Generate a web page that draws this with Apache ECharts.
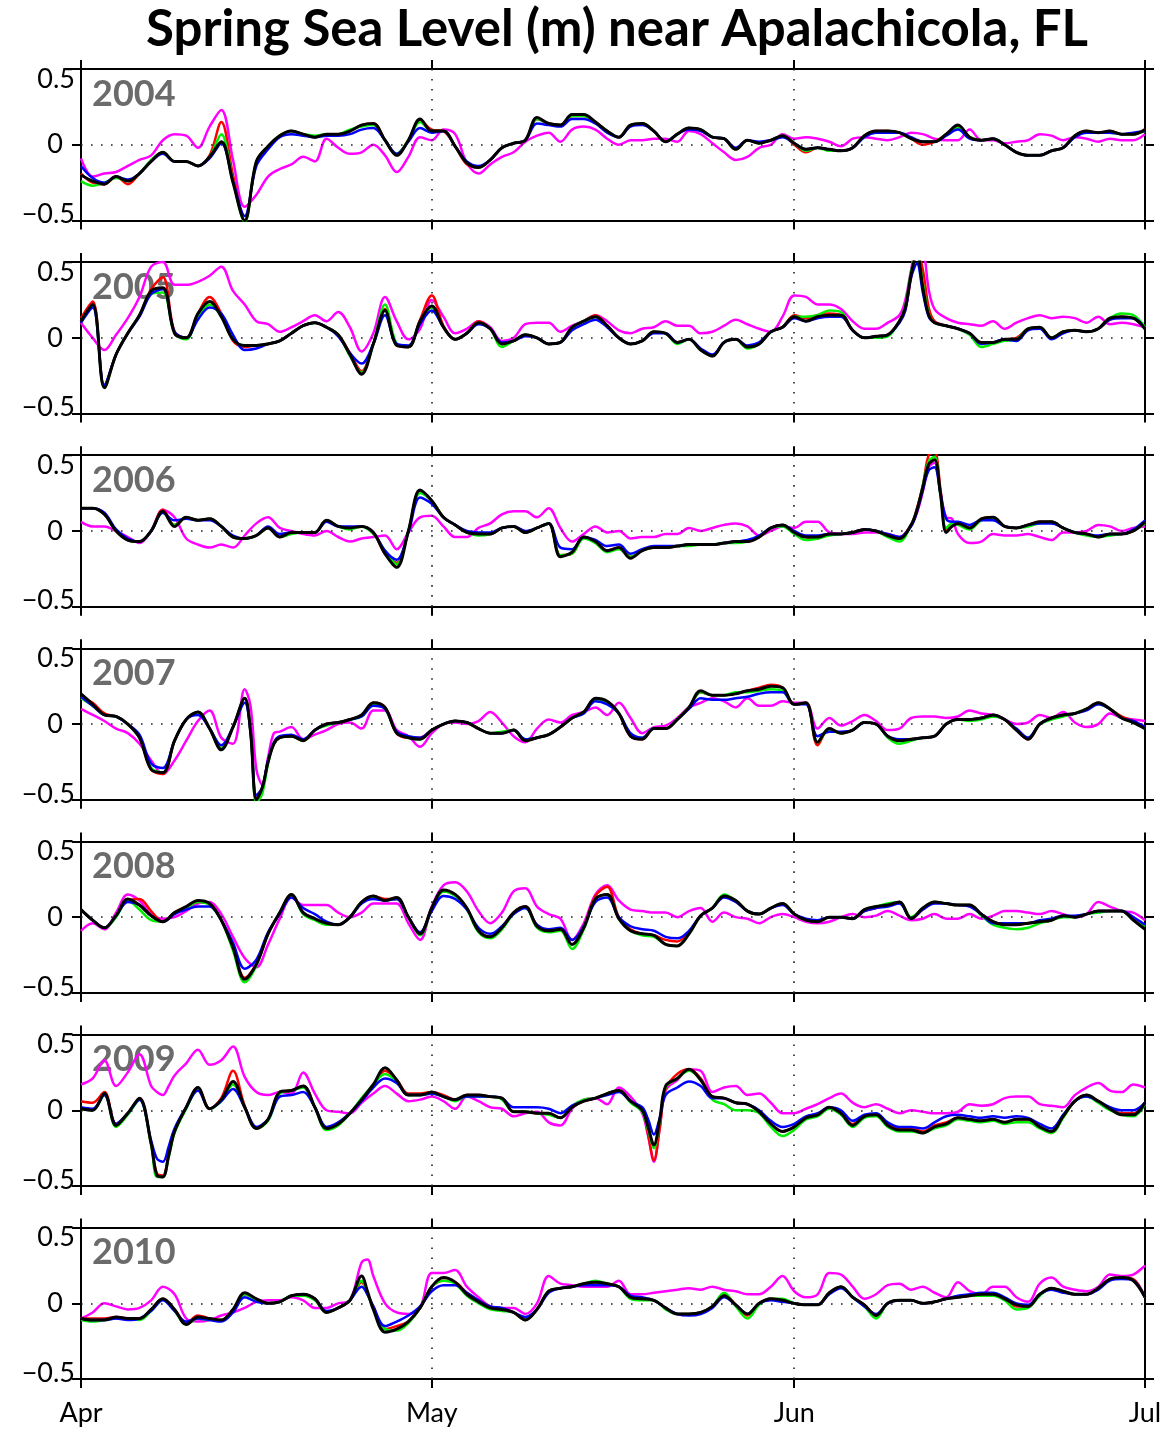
<!DOCTYPE html>
<html><head><meta charset="utf-8">
<script src="https://cdn.jsdelivr.net/npm/echarts@6/dist/echarts.min.js"></script>
<style>html,body{margin:0;padding:0;background:#fff}#c{width:1169px;height:1433px}</style>
</head><body><div id="c"></div>
<script>
const chartTitle = 'Spring Sea Level (m) near Apalachicola, FL';
const monthTicks = [0, 30, 61, 91];
const monthNames = ['Apr', 'May', 'Jun', 'Jul'];
const yTicks = [-0.5, 0, 0.5];
const yTickText = ['\u22120.5', '0', '0.5'];

// ---- 2004 ----
const extra2004 = [];
const black2004 = [-0.20,-0.24,-0.26,-0.21,-0.24,-0.19,-0.11,-0.05,-0.11,-0.11,
-0.14,-0.08,0.02,-0.25,-0.50,-0.11,-0.01,0.06,0.09,0.07,
0.05,0.07,0.07,0.09,0.13,0.14,0.03,-0.07,0.03,0.17,
0.09,0.09,-0.01,-0.12,-0.15,-0.10,-0.02,0.01,0.03,0.18,
0.14,0.13,0.20,0.20,0.15,0.09,0.05,0.13,0.14,0.09,
0.02,0.07,0.11,0.10,0.05,0.04,-0.03,0.03,0.01,0.03,
0.06,0.01,-0.03,-0.02,-0.03,-0.04,-0.02,0.06,0.09,0.09,
0.08,0.04,0.02,0.02,0.07,0.13,0.05,0.03,0.04,0.00,
-0.05,-0.07,-0.07,-0.04,-0.02,0.06,0.09,0.08,0.09,0.07,
0.07,0.10];
const red2004 = [-0.19,-0.25,-0.26,-0.21,-0.26,-0.19,-0.11,-0.05,-0.11,-0.11,
-0.14,-0.07,0.15,-0.20,-0.50,-0.12,-0.01,0.06,0.09,0.07,
0.05,0.07,0.07,0.09,0.13,0.14,0.03,-0.07,0.03,0.16,
0.10,0.09,-0.01,-0.13,-0.15,-0.10,-0.02,0.01,0.03,0.17,
0.14,0.13,0.19,0.19,0.15,0.09,0.05,0.13,0.14,0.09,
0.02,0.07,0.11,0.10,0.05,0.04,-0.03,0.03,0.01,0.03,
0.06,0.00,-0.05,-0.02,-0.03,-0.04,-0.02,0.06,0.09,0.09,
0.08,0.04,0.00,0.02,0.07,0.12,0.05,0.03,0.04,0.00,
-0.05,-0.07,-0.07,-0.04,-0.02,0.06,0.09,0.08,0.09,0.07,
0.07,0.10];
const green2004 = [-0.24,-0.27,-0.25,-0.22,-0.24,-0.19,-0.10,-0.05,-0.11,-0.11,
-0.14,-0.08,0.07,-0.24,-0.51,-0.11,-0.01,0.06,0.09,0.07,
0.06,0.07,0.07,0.10,0.12,0.13,0.03,-0.06,0.03,0.15,
0.09,0.09,-0.01,-0.12,-0.15,-0.10,-0.02,0.01,0.03,0.17,
0.14,0.13,0.19,0.19,0.15,0.09,0.05,0.13,0.14,0.09,
0.02,0.07,0.11,0.10,0.05,0.04,-0.03,0.03,0.01,0.03,
0.06,0.01,-0.04,-0.02,-0.04,-0.04,-0.02,0.06,0.08,0.09,
0.08,0.04,0.02,0.02,0.07,0.11,0.05,0.03,0.04,0.00,
-0.05,-0.07,-0.07,-0.04,-0.02,0.06,0.08,0.08,0.08,0.07,
0.07,0.09];
const blue2004 = [-0.14,-0.22,-0.25,-0.21,-0.23,-0.19,-0.11,-0.06,-0.11,-0.11,
-0.14,-0.09,0.01,-0.24,-0.47,-0.14,-0.03,0.05,0.07,0.06,
0.05,0.06,0.06,0.07,0.10,0.11,0.03,-0.06,0.02,0.11,
0.08,0.09,-0.01,-0.11,-0.14,-0.10,-0.02,0.01,0.03,0.14,
0.13,0.12,0.17,0.17,0.14,0.08,0.05,0.12,0.13,0.09,
0.02,0.07,0.10,0.09,0.05,0.04,-0.02,0.03,0.02,0.03,
0.05,0.01,-0.03,-0.02,-0.03,-0.04,-0.02,0.05,0.08,0.08,
0.08,0.05,0.02,0.02,0.06,0.10,0.04,0.03,0.04,0.00,
-0.05,-0.07,-0.07,-0.04,-0.02,0.05,0.08,0.08,0.08,0.07,
0.08,0.09];
const magenta2004 = [-0.09,-0.21,-0.19,-0.18,-0.14,-0.10,-0.07,0.03,0.07,0.06,
-0.02,0.12,0.23,-0.10,-0.41,-0.33,-0.21,-0.16,-0.13,-0.08,
-0.11,0.04,-0.02,-0.06,-0.05,0.00,-0.07,-0.18,-0.08,0.05,
0.03,0.10,0.07,-0.12,-0.19,-0.13,-0.08,-0.05,0.02,0.06,
0.08,0.02,0.10,0.12,0.10,0.04,0.00,0.03,0.03,0.04,
0.04,0.02,0.09,0.07,0.01,-0.05,-0.10,-0.08,-0.02,0.00,
0.07,0.04,0.05,0.04,0.02,-0.01,0.04,0.05,0.04,0.03,
0.05,0.08,0.07,0.04,0.03,0.03,0.10,0.03,0.03,0.01,
0.02,0.03,0.07,0.06,0.03,0.05,0.04,0.02,0.04,0.03,
0.03,0.07];

// ---- 2005 ----
const extra2005 = [70.5, 71.5, 72.5];
const black2005 = [0.11,0.22,-0.33,-0.11,0.03,0.15,0.31,0.33,0.03,0.00,
0.16,0.24,0.14,-0.01,-0.05,-0.05,-0.04,-0.02,0.03,0.08,
0.10,0.07,0.02,-0.11,-0.24,-0.04,0.18,-0.05,-0.06,0.11,
0.21,0.07,-0.01,0.03,0.10,0.06,-0.04,-0.02,0.02,0.00,
-0.04,-0.03,0.07,0.11,0.14,0.08,0.00,-0.04,-0.02,0.04,
0.03,-0.03,-0.01,-0.08,-0.12,-0.03,-0.01,-0.06,-0.04,0.04,
0.07,0.14,0.11,0.14,0.15,0.15,0.05,0.00,0.01,0.02,
0.11, 0.20,0.42,0.56,0.33,0.15,
0.10,0.08,0.06,0.03,-0.03,-0.03,-0.01,-0.01,0.06,0.07,
0.00,0.04,0.05,0.04,0.06,0.13,0.14,0.13,0.06];
const red2005 = [0.13,0.24,-0.32,-0.11,0.03,0.15,0.32,0.40,0.04,0.00,
0.16,0.27,0.16,-0.02,-0.06,-0.05,-0.04,-0.02,0.03,0.08,
0.10,0.07,0.02,-0.10,-0.22,-0.04,0.19,-0.05,-0.06,0.12,
0.28,0.08,-0.01,0.03,0.11,0.06,-0.04,-0.02,0.02,0.00,
-0.04,-0.03,0.07,0.11,0.15,0.08,0.00,-0.04,-0.02,0.04,
0.03,-0.03,-0.01,-0.08,-0.12,-0.03,-0.01,-0.06,-0.04,0.04,
0.07,0.15,0.13,0.15,0.16,0.15,0.05,0.00,0.01,0.02,
0.11, 0.19,0.40,0.58,0.45,0.20,
0.11,0.08,0.06,0.03,-0.03,-0.03,-0.01,0.00,0.06,0.07,
0.00,0.04,0.05,0.04,0.06,0.12,0.14,0.13,0.06];
const green2005 = [0.11,0.21,-0.33,-0.11,0.03,0.15,0.29,0.30,0.03,-0.01,
0.14,0.22,0.14,-0.01,-0.05,-0.05,-0.04,-0.02,0.03,0.08,
0.10,0.07,0.02,-0.12,-0.23,-0.04,0.22,-0.04,-0.06,0.11,
0.20,0.07,-0.01,0.03,0.10,0.06,-0.06,-0.02,0.02,0.00,
-0.04,-0.03,0.07,0.11,0.14,0.08,0.00,-0.04,-0.02,0.04,
0.03,-0.04,-0.01,-0.08,-0.12,-0.03,-0.01,-0.07,-0.04,0.04,
0.07,0.14,0.14,0.15,0.18,0.17,0.05,0.00,0.00,0.01,
0.11, 0.21,0.44,0.56,0.36,0.16,
0.10,0.08,0.06,0.02,-0.06,-0.04,-0.02,-0.01,0.06,0.07,
0.00,0.04,0.05,0.04,0.06,0.13,0.16,0.15,0.07];
const blue2005 = [0.10,0.20,-0.31,-0.11,0.03,0.14,0.29,0.32,0.04,0.00,
0.12,0.20,0.16,0.02,-0.08,-0.07,-0.04,-0.02,0.03,0.08,
0.10,0.07,0.01,-0.10,-0.17,-0.04,0.15,-0.04,-0.05,0.09,
0.18,0.07,-0.01,0.03,0.09,0.06,-0.03,-0.02,0.01,0.00,
-0.04,-0.03,0.05,0.09,0.12,0.07,0.00,-0.04,-0.02,0.03,
0.03,-0.03,-0.01,-0.07,-0.11,-0.03,-0.01,-0.05,-0.03,0.04,
0.07,0.13,0.11,0.13,0.14,0.14,0.05,0.00,0.01,0.02,
0.10, 0.18,0.40,0.49,0.30,0.14,
0.10,0.08,0.06,0.03,-0.04,-0.03,-0.01,-0.02,0.05,0.06,
-0.01,0.03,0.05,0.04,0.06,0.12,0.13,0.13,0.06];
const magenta2005 = [0.10,0.00,-0.08,0.02,0.13,0.27,0.47,0.50,0.35,0.35,
0.37,0.41,0.47,0.31,0.22,0.11,0.09,0.04,0.07,0.11,
0.15,0.11,0.17,0.07,-0.09,0.03,0.27,0.11,-0.01,0.06,
0.25,0.14,0.03,0.06,0.11,0.07,-0.02,0.00,0.09,0.10,
0.10,0.04,0.08,0.11,0.15,0.11,0.05,0.03,0.06,0.07,
0.11,0.08,0.08,0.03,0.04,0.08,0.12,0.09,0.06,0.04,
0.14,0.28,0.27,0.22,0.22,0.19,0.11,0.06,0.06,0.10,
0.15, 0.25,0.45,0.62,0.60,0.32,
0.19,0.13,0.10,0.09,0.08,0.11,0.06,0.10,0.13,0.15,
0.13,0.14,0.13,0.10,0.14,0.09,0.10,0.09,0.07];

// ---- 2006 ----
const extra2006 = [71.5, 72.5, 73.5, 74.5];
const black2006 = [0.15,0.15,0.11,0.00,-0.06,-0.07,0.00,0.13,0.03,0.09,
0.07,0.08,0.03,-0.04,-0.05,-0.03,0.02,-0.04,-0.01,-0.01,
-0.01,0.07,0.03,0.02,0.03,-0.01,-0.15,-0.24,0.00,0.27,
0.20,0.09,0.04,-0.01,-0.02,-0.02,0.02,0.03,-0.01,0.02,
0.05,-0.17,-0.14,-0.04,-0.07,-0.13,-0.11,-0.18,-0.13,-0.11,
-0.11,-0.10,-0.09,-0.09,-0.09,-0.08,-0.07,-0.07,-0.04,0.02,
0.04,-0.01,-0.04,-0.04,-0.02,-0.02,-0.01,0.01,0.00,-0.03,
-0.05,0.04, 0.14,0.29,0.44,0.47,0.25,-0.01,0.03,
0.05,0.02,0.08,0.09,0.03,0.02,0.04,0.06,0.06,0.02,
-0.01,-0.02,-0.04,-0.02,-0.02,0.00,0.06];
const red2006 = [0.15,0.15,0.11,0.00,-0.06,-0.07,0.00,0.14,0.04,0.09,
0.07,0.08,0.03,-0.04,-0.05,-0.03,0.02,-0.04,-0.01,-0.01,
-0.01,0.07,0.03,0.02,0.03,-0.01,-0.15,-0.21,0.00,0.26,
0.20,0.09,0.04,-0.01,-0.02,-0.02,0.02,0.03,-0.01,0.02,
0.05,-0.16,-0.15,-0.04,-0.07,-0.13,-0.11,-0.17,-0.13,-0.11,
-0.11,-0.10,-0.09,-0.09,-0.09,-0.08,-0.07,-0.07,-0.04,0.02,
0.04,-0.01,-0.04,-0.05,-0.02,-0.02,-0.01,0.01,0.00,-0.03,
-0.05,0.04, 0.15,0.30,0.50,0.52,0.28,0.00,0.04,
0.05,0.02,0.08,0.09,0.03,0.02,0.04,0.06,0.06,0.02,
-0.01,-0.02,-0.04,-0.02,-0.02,0.00,0.06];
const green2006 = [0.15,0.15,0.11,0.00,-0.06,-0.07,0.00,0.12,0.04,0.09,
0.07,0.08,0.03,-0.04,-0.05,-0.03,0.02,-0.04,-0.02,-0.01,
-0.01,0.07,0.03,0.01,0.03,-0.02,-0.13,-0.22,0.00,0.25,
0.20,0.09,0.04,-0.01,-0.03,-0.02,0.02,0.03,-0.01,0.02,
0.05,-0.16,-0.15,-0.05,-0.08,-0.14,-0.12,-0.17,-0.13,-0.11,
-0.11,-0.10,-0.10,-0.09,-0.09,-0.08,-0.08,-0.07,-0.04,0.02,
0.03,-0.02,-0.06,-0.05,-0.03,-0.02,-0.01,0.01,0.00,-0.04,
-0.07,0.04, 0.14,0.30,0.46,0.49,0.24,0.02,0.05,
0.04,0.01,0.07,0.08,0.03,0.02,0.03,0.05,0.06,0.02,
-0.01,-0.03,-0.04,-0.03,-0.02,0.00,0.05];
const blue2006 = [0.15,0.15,0.12,0.01,-0.05,-0.07,0.00,0.12,0.07,0.08,
0.07,0.07,0.03,-0.03,-0.05,-0.03,0.03,-0.02,-0.01,-0.01,
-0.01,0.06,0.03,0.03,0.03,-0.01,-0.13,-0.19,-0.01,0.22,
0.18,0.09,0.04,0.00,-0.01,-0.01,0.02,0.03,0.00,0.02,
0.05,-0.11,-0.12,-0.04,-0.06,-0.10,-0.09,-0.15,-0.12,-0.10,
-0.10,-0.10,-0.09,-0.09,-0.09,-0.08,-0.07,-0.06,-0.03,0.02,
0.04,0.00,-0.03,-0.03,-0.02,-0.02,-0.01,0.01,0.00,-0.02,
-0.04,0.03, 0.13,0.27,0.40,0.42,0.25,0.08,0.06,
0.06,0.04,0.07,0.07,0.03,0.02,0.04,0.05,0.05,0.02,
-0.01,-0.02,-0.03,-0.02,-0.02,0.01,0.07];
const magenta2006 = [0.06,0.03,0.03,0.00,-0.04,-0.08,0.00,0.14,0.09,-0.05,
-0.09,-0.11,-0.09,-0.11,-0.03,0.05,0.09,0.02,0.00,-0.02,
-0.03,0.00,-0.04,-0.07,-0.05,-0.04,-0.03,-0.12,-0.01,0.09,
0.10,0.03,-0.04,-0.04,0.02,0.05,0.11,0.13,0.13,0.09,
0.15,0.02,-0.07,-0.02,0.03,-0.01,0.00,-0.05,-0.04,-0.04,
-0.02,-0.02,0.02,0.00,0.02,0.04,0.05,0.03,-0.03,0.00,
0.03,0.02,0.06,0.06,-0.01,-0.02,-0.02,-0.01,-0.01,-0.02,
-0.04,0.04, 0.12,0.26,0.42,0.45,0.26,0.09,0.08,
-0.02,-0.08,-0.07,-0.02,-0.03,-0.03,-0.02,-0.04,-0.06,-0.01,
-0.01,0.00,0.04,0.03,0.00,0.02,0.03];

// ---- 2007 ----
const extra2007 = [14.5, 15.5, 16.5];
const black2007 = [0.20,0.13,0.06,0.05,0.00,-0.09,-0.30,-0.32,-0.11,0.03,
0.08,-0.03,-0.17,-0.02,0.17, -0.05,-0.50,-0.42,-0.25,-0.13,
-0.09,-0.08,-0.11,-0.04,0.00,0.01,0.03,0.06,0.14,0.11,
-0.06,-0.09,-0.10,-0.04,0.00,0.02,0.01,-0.03,-0.06,-0.06,
-0.04,-0.11,-0.09,-0.07,-0.02,0.04,0.08,0.17,0.15,0.07,
-0.08,-0.10,-0.03,-0.03,0.03,0.11,0.22,0.19,0.19,0.20,
0.22,0.23,0.25,0.24,0.13,0.14,-0.12,-0.03,-0.06,-0.04,
0.01,0.00,-0.08,-0.11,-0.10,-0.09,-0.08,0.00,0.03,0.03,
0.04,0.06,0.03,-0.04,-0.10,0.00,0.04,0.06,0.07,0.10,
0.14,0.10,0.04,0.01,-0.03];
const red2007 = [0.18,0.14,0.07,0.05,0.00,-0.09,-0.30,-0.33,-0.11,0.03,
0.08,-0.03,-0.16,-0.02,0.17, -0.05,-0.49,-0.42,-0.25,-0.13,
-0.09,-0.08,-0.11,-0.04,0.00,0.01,0.03,0.06,0.14,0.11,
-0.06,-0.09,-0.09,-0.04,0.00,0.02,0.01,-0.03,-0.06,-0.06,
-0.04,-0.11,-0.09,-0.07,-0.02,0.04,0.08,0.16,0.15,0.07,
-0.08,-0.10,-0.03,-0.03,0.03,0.11,0.21,0.19,0.19,0.20,
0.22,0.24,0.26,0.24,0.13,0.14,-0.14,-0.03,-0.06,-0.04,
0.01,0.00,-0.08,-0.11,-0.10,-0.09,-0.08,0.00,0.03,0.03,
0.04,0.06,0.03,-0.04,-0.10,0.00,0.04,0.06,0.07,0.10,
0.14,0.10,0.05,0.02,-0.02];
const green2007 = [0.17,0.12,0.06,0.05,0.00,-0.09,-0.29,-0.32,-0.11,0.03,
0.08,-0.03,-0.16,-0.02,0.17, -0.06,-0.52,-0.46,-0.26,-0.13,
-0.09,-0.08,-0.11,-0.04,-0.01,0.01,0.03,0.05,0.13,0.10,
-0.06,-0.09,-0.10,-0.04,0.00,0.02,0.01,-0.03,-0.06,-0.05,
-0.04,-0.10,-0.09,-0.07,-0.02,0.04,0.08,0.16,0.14,0.07,
-0.07,-0.09,-0.03,-0.03,0.03,0.11,0.21,0.19,0.19,0.21,
0.21,0.22,0.23,0.22,0.13,0.14,-0.12,-0.04,-0.06,-0.04,
0.01,0.00,-0.09,-0.13,-0.11,-0.09,-0.08,0.00,0.03,0.02,
0.03,0.05,0.03,-0.04,-0.09,0.00,0.03,0.05,0.07,0.10,
0.13,0.10,0.04,0.01,-0.03];
const blue2007 = [0.18,0.12,0.06,0.05,0.00,-0.07,-0.26,-0.29,-0.11,0.03,
0.06,-0.03,-0.14,-0.02,0.14, -0.05,-0.47,-0.42,-0.24,-0.12,
-0.08,-0.07,-0.10,-0.04,0.00,0.01,0.03,0.05,0.12,0.10,
-0.05,-0.08,-0.09,-0.04,0.00,0.02,0.01,-0.03,-0.06,-0.06,
-0.04,-0.10,-0.09,-0.07,-0.02,0.04,0.07,0.15,0.13,0.07,
-0.06,-0.09,-0.03,-0.03,0.03,0.10,0.17,0.16,0.16,0.17,
0.18,0.20,0.21,0.21,0.13,0.13,-0.08,-0.05,-0.05,-0.04,
0.01,0.00,-0.08,-0.10,-0.10,-0.09,-0.08,0.00,0.03,0.03,
0.04,0.06,0.03,-0.03,-0.09,0.00,0.04,0.06,0.07,0.09,
0.13,0.10,0.04,0.02,-0.02];
const magenta2007 = [0.10,0.06,0.02,-0.03,-0.06,-0.13,-0.24,-0.33,-0.24,-0.11,
0.02,0.09,-0.09,-0.13,0.23, 0.12,-0.30,-0.40,-0.22,-0.06,
-0.05,-0.02,-0.10,-0.07,-0.04,0.00,0.01,-0.03,0.09,0.09,
-0.04,-0.08,-0.15,-0.06,0.00,0.01,0.00,0.02,0.08,0.01,
-0.08,-0.12,-0.03,0.03,0.01,0.06,0.08,0.11,0.06,0.14,
0.04,-0.06,-0.02,-0.01,0.04,0.11,0.14,0.17,0.15,0.11,
0.17,0.12,0.12,0.15,0.14,0.14,-0.03,0.04,-0.01,0.02,
0.06,0.02,-0.04,-0.03,0.04,0.05,0.05,0.04,0.05,0.09,
0.07,0.06,0.03,0.00,0.01,0.06,0.04,0.08,0.01,-0.02,
0.00,0.07,0.04,0.03,0.02];

// ---- 2008 ----
const extra2008 = [];
const black2008 = [0.05,-0.02,-0.07,0.01,0.12,0.08,0.01,-0.03,0.03,0.07,
0.11,0.09,-0.02,-0.20,-0.41,-0.31,-0.11,0.03,0.15,0.03,
-0.01,-0.04,-0.05,0.00,0.10,0.14,0.11,0.13,0.00,-0.11,
0.06,0.18,0.15,0.06,-0.09,-0.13,-0.07,0.03,0.07,-0.06,
-0.09,-0.08,-0.18,-0.07,0.12,0.15,-0.01,-0.09,-0.11,-0.12,
-0.18,-0.19,-0.11,0.01,0.06,0.14,0.11,0.04,0.02,0.06,
0.09,0.02,-0.02,-0.03,0.00,0.00,-0.01,0.05,0.07,0.08,
0.10,-0.01,0.06,0.10,0.09,0.08,0.08,0.02,-0.03,-0.05,
-0.05,-0.04,-0.03,-0.02,0.01,0.00,0.02,0.04,0.04,0.04,
-0.02,-0.08];
const red2008 = [0.05,-0.02,-0.07,0.01,0.11,0.12,0.04,-0.03,0.03,0.07,
0.10,0.09,-0.02,-0.20,-0.40,-0.31,-0.11,0.03,0.15,0.03,
-0.01,-0.04,-0.05,0.00,0.10,0.14,0.12,0.12,0.00,-0.11,
0.06,0.17,0.15,0.06,-0.09,-0.13,-0.07,0.03,0.07,-0.06,
-0.08,-0.08,-0.15,-0.06,0.14,0.20,0.00,-0.08,-0.11,-0.12,
-0.15,-0.16,-0.10,0.01,0.06,0.14,0.11,0.04,0.02,0.06,
0.09,0.02,-0.02,-0.03,0.00,0.00,-0.01,0.04,0.06,0.08,
0.10,-0.01,0.05,0.10,0.09,0.08,0.08,0.02,-0.03,-0.05,
-0.05,-0.04,-0.03,-0.02,0.01,0.00,0.02,0.04,0.04,0.04,
-0.01,-0.06];
const green2008 = [0.05,-0.02,-0.07,0.00,0.11,0.05,-0.02,-0.03,0.03,0.06,
0.10,0.08,-0.02,-0.22,-0.43,-0.32,-0.11,0.03,0.15,0.02,
-0.02,-0.05,-0.05,0.00,0.10,0.13,0.11,0.12,0.00,-0.12,
0.05,0.17,0.14,0.05,-0.10,-0.14,-0.08,0.02,0.06,-0.07,
-0.10,-0.09,-0.21,-0.08,0.12,0.15,-0.01,-0.09,-0.12,-0.13,
-0.18,-0.19,-0.11,0.01,0.06,0.15,0.11,0.04,0.02,0.06,
0.09,0.02,-0.02,-0.03,0.00,0.00,-0.01,0.05,0.07,0.09,
0.10,0.00,0.06,0.10,0.09,0.08,0.08,0.01,-0.05,-0.07,
-0.08,-0.07,-0.04,-0.02,0.00,0.00,0.02,0.03,0.04,0.04,
-0.02,-0.06];
const blue2008 = [0.05,-0.02,-0.07,0.01,0.10,0.08,0.01,-0.03,0.02,0.05,
0.07,0.07,-0.02,-0.17,-0.34,-0.28,-0.10,0.02,0.13,0.06,
0.02,-0.03,-0.05,0.00,0.09,0.12,0.11,0.12,0.00,-0.10,
0.04,0.14,0.12,0.05,-0.07,-0.11,-0.06,0.02,0.06,-0.05,
-0.08,-0.07,-0.15,-0.06,0.10,0.13,0.00,-0.06,-0.08,-0.09,
-0.13,-0.14,-0.09,0.01,0.06,0.13,0.10,0.04,0.02,0.06,
0.08,0.02,-0.01,-0.02,0.00,0.00,-0.01,0.04,0.06,0.07,
0.09,-0.01,0.05,0.09,0.09,0.08,0.07,0.02,-0.04,-0.04,
-0.04,-0.04,-0.02,-0.01,0.01,0.01,0.02,0.04,0.04,0.04,
0.00,-0.05];
const magenta2008 = [-0.09,-0.04,-0.08,0.03,0.15,0.11,0.02,-0.01,0.00,0.04,
0.09,0.10,0.02,-0.13,-0.27,-0.33,-0.18,-0.01,0.13,0.08,
0.08,0.08,0.03,0.00,0.03,0.09,0.09,0.09,-0.04,-0.15,
0.07,0.21,0.23,0.17,0.04,-0.04,0.03,0.17,0.19,0.07,
0.02,-0.01,-0.15,-0.04,0.15,0.21,0.11,0.05,0.04,0.03,
0.03,0.00,0.04,0.06,-0.03,0.03,0.00,-0.01,-0.04,0.00,
0.02,0.00,-0.03,-0.04,-0.03,0.00,0.02,0.00,0.01,0.04,
0.01,-0.02,-0.01,0.02,-0.01,-0.01,0.02,-0.01,0.01,0.04,
0.04,0.03,0.02,0.04,0.02,0.00,0.02,0.10,0.07,0.04,
0.03,-0.02];

// ---- 2009 ----
const extra2009 = [6.5, 7.5, 48.5, 49.5];
const black2009 = [0.01,0.00,0.11,-0.10,-0.02,0.08,-0.22, -0.43,-0.44,-0.30,
-0.14,0.02,0.15,0.01,0.07,0.19,0.02,-0.12,-0.06,0.12,
0.13,0.16,0.02,-0.12,-0.09,-0.02,0.07,0.17,0.28,0.20,
0.10,0.10,0.12,0.09,0.07,0.10,0.10,0.09,0.08,-0.01,
-0.01,-0.02,-0.02,-0.05,0.02,0.06,0.08,0.11,0.13,0.06,
0.00, -0.11,-0.23,-0.06,
0.16,0.21,0.27,0.20,0.09,0.08,0.05,0.04,-0.01,-0.09,
-0.14,-0.11,-0.05,-0.03,0.02,-0.02,-0.10,-0.04,-0.03,-0.10,
-0.13,-0.13,-0.15,-0.11,-0.09,-0.05,-0.06,-0.07,-0.06,-0.08,
-0.06,-0.06,-0.11,-0.14,-0.04,0.06,0.10,0.06,0.01,-0.03,
-0.03,0.05];
const red2009 = [0.06,0.05,0.12,-0.09,-0.02,0.08,-0.22, -0.42,-0.43,-0.29,
-0.14,0.02,0.15,0.01,0.08,0.26,0.03,-0.12,-0.06,0.12,
0.13,0.16,0.02,-0.12,-0.09,-0.02,0.07,0.16,0.26,0.20,
0.11,0.11,0.12,0.10,0.07,0.10,0.10,0.09,0.08,-0.01,
-0.01,-0.02,-0.02,-0.05,0.02,0.06,0.08,0.11,0.13,0.06,
0.00, -0.16,-0.33,-0.12,
0.14,0.24,0.27,0.21,0.09,0.08,0.05,0.04,-0.01,-0.09,
-0.14,-0.11,-0.05,-0.03,0.02,-0.02,-0.09,-0.04,-0.03,-0.09,
-0.12,-0.12,-0.14,-0.10,-0.08,-0.05,-0.06,-0.07,-0.06,-0.08,
-0.06,-0.06,-0.11,-0.15,-0.04,0.06,0.10,0.06,0.01,-0.02,
-0.02,0.05];
const green2009 = [0.01,0.00,0.10,-0.11,-0.03,0.07,-0.23, -0.44,-0.44,-0.31,
-0.15,0.01,0.14,0.01,0.06,0.17,0.02,-0.12,-0.07,0.11,
0.13,0.15,0.02,-0.13,-0.10,-0.02,0.08,0.17,0.24,0.19,
0.10,0.10,0.11,0.09,0.06,0.09,0.09,0.09,0.07,-0.01,
-0.01,-0.02,-0.03,-0.05,0.03,0.07,0.08,0.11,0.13,0.05,
-0.01, -0.13,-0.25,-0.07,
0.15,0.21,0.26,0.20,0.07,0.04,0.00,0.00,-0.02,-0.11,
-0.17,-0.13,-0.06,-0.04,0.01,-0.03,-0.11,-0.05,-0.04,-0.11,
-0.14,-0.14,-0.15,-0.12,-0.10,-0.06,-0.07,-0.08,-0.07,-0.09,
-0.08,-0.08,-0.12,-0.15,-0.05,0.06,0.09,0.05,0.00,-0.03,
-0.04,0.04];
const blue2009 = [0.02,0.01,0.10,-0.09,-0.02,0.07,-0.20, -0.32,-0.34,-0.24,
-0.12,0.02,0.13,0.01,0.06,0.14,0.02,-0.11,-0.06,0.09,
0.10,0.12,0.02,-0.11,-0.08,-0.02,0.06,0.15,0.21,0.18,
0.10,0.10,0.11,0.09,0.07,0.09,0.09,0.09,0.08,0.02,
0.02,0.02,0.01,-0.02,0.03,0.06,0.08,0.10,0.12,0.06,
0.02, -0.06,-0.16,-0.05,
0.10,0.15,0.19,0.16,0.08,0.08,0.05,0.04,0.00,-0.07,
-0.11,-0.09,-0.04,-0.02,0.02,0.00,-0.07,-0.03,-0.02,-0.08,
-0.11,-0.11,-0.12,-0.08,-0.04,-0.03,-0.04,-0.05,-0.04,-0.05,
-0.04,-0.05,-0.09,-0.12,-0.03,0.06,0.09,0.06,0.02,0.00,
0.00,0.05];
const magenta2009 = [0.17,0.21,0.33,0.16,0.25,0.37,0.16, 0.12,0.10,0.16,
0.23,0.31,0.40,0.30,0.33,0.42,0.22,0.12,0.10,0.12,
0.11,0.25,0.11,0.00,-0.01,-0.02,0.05,0.11,0.16,0.11,
0.06,0.07,0.09,0.06,0.01,0.09,0.06,0.02,0.01,-0.04,
-0.02,-0.01,-0.08,-0.10,0.01,0.07,0.08,0.04,0.15,0.09,
-0.02, -0.17,-0.34,-0.11,
0.13,0.20,0.27,0.26,0.12,0.15,0.16,0.10,0.11,0.05,
-0.02,-0.02,0.01,0.04,0.08,0.11,0.05,0.02,0.04,0.01,
-0.02,0.00,-0.01,-0.02,-0.02,-0.01,0.04,0.03,0.04,0.08,
0.09,0.09,0.04,0.03,0.02,0.10,0.15,0.18,0.13,0.12,
0.17,0.15];

// ---- 2010 ----
const extra2010 = [24.5];
const black2010 = [-0.10,-0.11,-0.11,-0.09,-0.10,-0.10,-0.04,0.03,-0.04,-0.14,
-0.09,-0.10,-0.11,-0.04,0.07,0.03,0.00,0.01,0.05,0.06,
0.03,-0.06,-0.03,0.02,0.18, 0.08,
-0.04,-0.19,-0.17,-0.12,-0.03,0.11,0.17,0.14,0.06,0.01,
-0.03,-0.04,-0.06,-0.11,-0.04,0.08,0.10,0.11,0.13,0.14,
0.13,0.11,0.04,0.03,0.02,-0.03,-0.07,-0.07,-0.06,-0.02,
0.05,-0.01,-0.07,0.00,0.03,0.02,0.00,-0.01,-0.01,0.07,
0.11,0.04,-0.01,-0.08,0.00,0.02,0.02,0.00,0.01,0.03,
0.04,0.05,0.06,0.06,0.03,-0.01,-0.02,0.06,0.10,0.08,
0.06,0.06,0.10,0.16,0.17,0.15,0.04];
const red2010 = [-0.10,-0.10,-0.10,-0.09,-0.10,-0.10,-0.04,0.03,-0.04,-0.13,
-0.08,-0.10,-0.11,-0.04,0.06,0.03,0.00,0.01,0.05,0.06,
0.03,-0.06,-0.03,0.02,0.14, 0.06,
-0.02,-0.17,-0.15,-0.12,-0.03,0.11,0.15,0.14,0.07,0.02,
-0.02,-0.04,-0.06,-0.11,-0.04,0.08,0.10,0.11,0.13,0.14,
0.13,0.11,0.04,0.03,0.02,-0.03,-0.07,-0.07,-0.06,-0.02,
0.06,-0.01,-0.08,0.00,0.03,0.02,0.00,-0.01,-0.01,0.07,
0.11,0.04,-0.01,-0.08,0.00,0.02,0.02,0.00,0.01,0.03,
0.04,0.05,0.06,0.06,0.03,-0.02,-0.02,0.06,0.10,0.08,
0.06,0.06,0.10,0.16,0.17,0.16,0.04];
const green2010 = [-0.11,-0.12,-0.11,-0.10,-0.10,-0.11,-0.05,0.03,-0.05,-0.14,
-0.10,-0.11,-0.11,-0.05,0.06,0.02,0.00,0.01,0.05,0.05,
0.02,-0.06,-0.03,0.02,0.15, 0.06,
-0.03,-0.17,-0.18,-0.13,-0.03,0.11,0.15,0.13,0.05,0.00,
-0.04,-0.05,-0.06,-0.11,-0.04,0.08,0.10,0.11,0.13,0.15,
0.13,0.11,0.03,0.02,0.02,-0.04,-0.07,-0.07,-0.06,-0.02,
0.07,-0.02,-0.10,-0.01,0.03,0.03,0.00,-0.01,-0.01,0.07,
0.11,0.04,-0.02,-0.10,0.00,0.02,0.02,0.00,0.01,0.03,
0.04,0.05,0.05,0.05,0.02,-0.04,-0.03,0.05,0.10,0.08,
0.06,0.06,0.10,0.16,0.17,0.15,0.04];
const blue2010 = [-0.10,-0.11,-0.11,-0.10,-0.11,-0.10,-0.05,0.02,-0.05,-0.12,
-0.10,-0.11,-0.12,-0.06,0.04,0.01,0.00,0.01,0.05,0.06,
0.03,-0.05,-0.03,0.02,0.11, 0.06,
-0.02,-0.15,-0.12,-0.08,-0.02,0.08,0.12,0.12,0.07,0.02,
-0.02,-0.03,-0.06,-0.09,-0.04,0.07,0.10,0.11,0.12,0.12,
0.12,0.11,0.05,0.04,0.02,-0.03,-0.07,-0.08,-0.07,-0.03,
0.04,-0.01,-0.07,0.00,0.02,0.01,0.00,-0.01,-0.01,0.06,
0.10,0.04,-0.02,-0.07,0.00,0.02,0.02,0.00,0.01,0.03,
0.05,0.06,0.07,0.07,0.04,0.00,-0.01,0.06,0.09,0.07,
0.06,0.06,0.09,0.15,0.16,0.15,0.04];
const magenta2010 = [-0.10,-0.06,0.00,-0.02,-0.04,-0.03,0.02,0.11,0.06,-0.10,
-0.12,-0.11,-0.08,-0.06,-0.03,0.01,0.02,0.02,0.04,0.02,
-0.03,-0.03,0.00,0.02,0.27, 0.29,
0.18,0.00,-0.06,-0.07,-0.03,0.20,0.20,0.22,0.11,0.04,
-0.02,-0.03,-0.03,-0.07,0.00,0.18,0.13,0.12,0.11,0.11,
0.11,0.15,0.06,0.06,0.07,0.08,0.09,0.10,0.09,0.11,
0.09,0.08,0.06,0.06,0.11,0.18,0.08,0.04,0.06,0.20,
0.19,0.11,0.03,0.06,0.12,0.13,0.09,0.11,0.07,0.04,
0.14,0.08,0.06,0.11,0.11,0.04,0.01,0.13,0.17,0.11,
0.09,0.08,0.11,0.19,0.18,0.19,0.25];

const panels = [
  {year:'2004', extra:extra2004, red:red2004, green:green2004, blue:blue2004, black:black2004, magenta:magenta2004},
  {year:'2005', extra:extra2005, red:red2005, green:green2005, blue:blue2005, black:black2005, magenta:magenta2005},
  {year:'2006', extra:extra2006, red:red2006, green:green2006, blue:blue2006, black:black2006, magenta:magenta2006},
  {year:'2007', extra:extra2007, red:red2007, green:green2007, blue:blue2007, black:black2007, magenta:magenta2007},
  {year:'2008', extra:extra2008, red:red2008, green:green2008, blue:blue2008, black:black2008, magenta:magenta2008},
  {year:'2009', extra:extra2009, red:red2009, green:green2009, blue:blue2009, black:black2009, magenta:magenta2009},
  {year:'2010', extra:extra2010, red:red2010, green:green2010, blue:blue2010, black:black2010, magenta:magenta2010}
];

function dayGrid(extra) {
  const d = [];
  for (let i = 0; i <= 91; i++) d.push(i);
  return d.concat(extra).sort((a, b) => a - b);
}

const FONT = 'Lato, "Noto Sans", sans-serif';
const GRID_TOP = 69, GRID_STEP = 193.1, GRID_H = 151.5, GRID_LEFT = 81, GRID_W = 1064;
const lineOrder = [
  {key:'magenta', color:'#ff00ff', width:2.5},
  {key:'red', color:'#ff0000', width:2.5},
  {key:'green', color:'#00ee00', width:2.5},
  {key:'blue', color:'#0000ff', width:2.5},
  {key:'black', color:'#000000', width:3}
];

const grid = [], xAxis = [], yAxis = [], series = [];
const title = [{
  text: chartTitle, left: 612, top: -1, textAlign: 'center',
  textStyle: {fontFamily: FONT, fontSize: 51, fontWeight: 'bold', color: '#000'}
}];
const axisLineStyle = {color: '#000', width: 2};

panels.forEach((p, i) => {
  const top = GRID_TOP + GRID_STEP * i;
  grid.push({left: GRID_LEFT, top: top, width: GRID_W, height: GRID_H, containLabel: false});
  const last = i === panels.length - 1;
  xAxis.push({
    type: 'value', gridIndex: i, min: 0, max: 91, position: 'bottom',
    axisLine: {show: true, onZero: false, lineStyle: axisLineStyle},
    axisTick: {show: true, inside: false, length: 9, customValues: monthTicks, lineStyle: axisLineStyle},
    axisLabel: {show: last, customValues: monthTicks, margin: 21,
      formatter: v => monthNames[monthTicks.indexOf(Math.round(v))] || '',
      fontFamily: FONT, fontSize: 27, color: '#000'},
    splitLine: {show: false}
  });
  xAxis.push({
    type: 'value', gridIndex: i, min: 0, max: 91, position: 'top',
    axisLine: {show: true, onZero: false, lineStyle: axisLineStyle},
    axisTick: {show: true, inside: false, length: 9, customValues: monthTicks, lineStyle: axisLineStyle},
    axisLabel: {show: false}, splitLine: {show: false}
  });
  yAxis.push({
    type: 'value', gridIndex: i, min: -0.5, max: 0.5, interval: 0.5, position: 'left',
    axisLine: {show: true, onZero: false, lineStyle: axisLineStyle},
    axisTick: {show: true, inside: false, length: 9, lineStyle: axisLineStyle},
    axisLabel: {show: true, margin: 6, color: '#000', fontFamily: FONT, fontSize: 27,
      formatter: v => {
        const idx = yTicks.findIndex(t => Math.abs(t - v) < 1e-6);
        const txt = yTickText[idx];
        if (idx === 2) return '{hi|' + txt + '}';
        if (idx === 0) return '{lo|' + txt + '}';
        return '{mid|' + txt + '}';
      },
      rich: {
        hi: {fontFamily: FONT, fontSize: 27, color: '#000', padding: [20, 0, 0, 0]},
        mid: {fontFamily: FONT, fontSize: 27, color: '#000', padding: [0, 12, 0, 0]},
        lo: {fontFamily: FONT, fontSize: 27, color: '#000', padding: [0, 0, 12, 0]}
      }
    },
    splitLine: {show: false}
  });
  yAxis.push({
    type: 'value', gridIndex: i, min: -0.5, max: 0.5, interval: 0.5, position: 'right',
    axisLine: {show: true, onZero: false, lineStyle: axisLineStyle},
    axisTick: {show: true, inside: false, length: 9, lineStyle: axisLineStyle},
    axisLabel: {show: false}, splitLine: {show: false}
  });
  title.push({
    text: p.year, left: 92, top: top + 7, z: 0, padding: 0,
    textStyle: {fontFamily: FONT, fontSize: 36, fontWeight: 'bold', color: '#6b6b6b'}
  });
  // dotted reference lines (month boundaries and zero)
  series.push({
    type: 'line', xAxisIndex: 2 * i, yAxisIndex: 2 * i, data: [], silent: true, z: 1,
    markLine: {
      silent: true, symbol: 'none', animation: false, label: {show: false},
      lineStyle: {color: '#222', width: 1.6, type: [1.6, 8.4]},
      emphasis: {disabled: true},
      data: [{xAxis: monthTicks[1]}, {xAxis: monthTicks[2]}, {yAxis: 0}]
    }
  });
  const days = dayGrid(p.extra);
  lineOrder.forEach((s, j) => {
    const vals = p[s.key];
    if (vals.length !== days.length) console.error('length mismatch', p.year, s.key, vals.length, days.length);
    series.push({
      type: 'line', name: s.key + p.year, xAxisIndex: 2 * i, yAxisIndex: 2 * i,
      data: days.map((d, k) => [d, vals[k]]),
      showSymbol: false, smooth: 0.35, clip: true, z: 2 + j,
      lineStyle: {color: s.color, width: s.width}, itemStyle: {color: s.color},
      silent: true, animation: false
    });
  });
});

const chart = echarts.init(document.getElementById('c'), null, {renderer: 'canvas'});
chart.setOption({
  animation: false,
  backgroundColor: '#ffffff',
  title: title, grid: grid, xAxis: xAxis, yAxis: yAxis, series: series
});
</script>
</body></html>
